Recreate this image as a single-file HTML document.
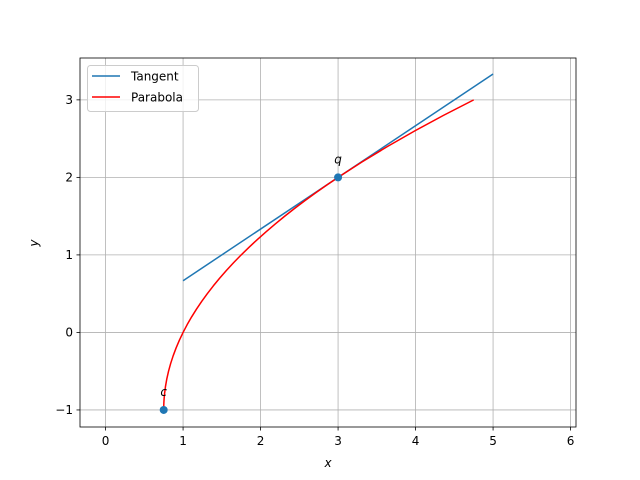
<!DOCTYPE html>
<html><head><meta charset="utf-8"><style>
body{margin:0;background:#fff;}
svg{display:block;font-family:"DejaVu Sans","Liberation Sans",sans-serif;}
</style></head><body>
<svg id="chart" width="640" height="480" viewBox="0 0 640 480">
<rect width="640" height="480" fill="#fff"/>
<g id="grid"></g>
<g id="series"></g>
<g id="axes"></g>
<text x="328" y="467" font-size="12" font-style="italic" text-anchor="middle">x</text>
<text x="38" y="243" font-size="12" font-style="italic" text-anchor="middle" transform="rotate(-90 38 243)">y</text>
<g>
<rect x="87.5" y="65.5" width="111" height="46" rx="3" fill="#fff" fill-opacity="0.8" stroke="#ccc"/>
<line x1="92" y1="76" x2="120" y2="76" stroke="#1f77b4" stroke-width="1.5"/>
<text x="131" y="80.5" font-size="12">Tangent</text>
<line x1="92" y1="97" x2="120" y2="97" stroke="#ff0000" stroke-width="1.5"/>
<text x="131" y="101.5" font-size="12">Parabola</text>
</g>
</svg>
<script>
const xTicks=[0,1,2,3,4,5,6];
const yTicks=[-1,0,1,2,3];
const tangentX=[1,5];
const tangentY=[0.667,3.333];
const parabolaY=[-1,-0.98,-0.95,-0.9,-0.85,-0.8,-0.7,-0.6,-0.5,-0.4,-0.3,-0.2,-0.1,0,0.1,0.2,0.3,0.4,0.5,0.6,0.7,0.8,0.9,1,1.1,1.2,1.3,1.4,1.5,1.6,1.7,1.8,1.9,2,2.2,2.4,2.6,2.8,3];
const parabolaX=[0.75,0.7501,0.7506,0.7525,0.7556,0.76,0.7725,0.79,0.8125,0.84,0.8725,0.91,0.9525,1,1.0525,1.11,1.1725,1.24,1.3125,1.39,1.4725,1.56,1.6525,1.75,1.8525,1.96,2.0725,2.19,2.3125,2.44,2.5725,2.71,2.8525,3,3.31,3.64,3.99,4.36,4.75];
const pointX=[3,0.75];
const pointY=[2,-1];
const pointLabels=["q","c"];
const L=80,R=576,T=58,B=427,xmin=-0.33,xmax=6.07,ymin=-1.22,ymax=3.54;
const sx=v=>L+(v-xmin)/(xmax-xmin)*(R-L);
const sy=v=>B-(v-ymin)/(ymax-ymin)*(B-T);
const NS="http://www.w3.org/2000/svg";
function mk(t,a,p){const e=document.createElementNS(NS,t);for(const k in a)e.setAttribute(k,a[k]);p.appendChild(e);return e;}
const grid=document.getElementById('grid'),axes=document.getElementById('axes'),ser=document.getElementById('series');
xTicks.forEach(v=>{const x=sx(v);
 const g=mk('line',{x1:x,y1:T,x2:x,y2:B,stroke:'#b0b0b0','stroke-width':0.8},grid);
 
 const t=mk('line',{x1:x,y1:B,x2:x,y2:B+3.5,stroke:'#000','stroke-width':0.8},axes);
 
 const l=mk('text',{x:x,y:B+18,'font-size':12,'text-anchor':'middle'},axes);l.textContent=v<0?'\u2212'+(-v):v;
 });
yTicks.forEach(v=>{const y=sy(v);
 const g=mk('line',{x1:L,y1:y,x2:R,y2:y,stroke:'#b0b0b0','stroke-width':0.8},grid);
 
 const t=mk('line',{x1:L-3.5,y1:y,x2:L,y2:y,stroke:'#000','stroke-width':0.8},axes);
 
 const l=mk('text',{x:L-7,y:y+4.3,'font-size':12,'text-anchor':'end'},axes);l.textContent=v<0?'\u2212'+(-v):v;
 });
const fr=mk('rect',{x:L,y:T,width:R-L,height:B-T,fill:'none',stroke:'#000','stroke-width':0.8},axes);

const tl=mk('polyline',{points:tangentX.map((x,i)=>sx(x)+','+sy(tangentY[i])).join(' '),fill:'none',stroke:'#1f77b4','stroke-width':1.5},ser);

const pl=mk('polyline',{points:parabolaX.map((x,i)=>sx(x)+','+sy(parabolaY[i])).join(' '),fill:'none',stroke:'#ff0000','stroke-width':1.5,'stroke-linejoin':'round'},ser);

pointX.forEach((x,i)=>{
 const c=mk('circle',{cx:sx(x),cy:sy(pointY[i]),r:4,fill:'#1f77b4'},ser);
 
 const t=mk('text',{x:sx(x),y:sy(pointY[i])-14,'font-size':12,'font-style':'italic','text-anchor':'middle'},ser);
 t.textContent=pointLabels[i];
 });
</script>
</body></html>
